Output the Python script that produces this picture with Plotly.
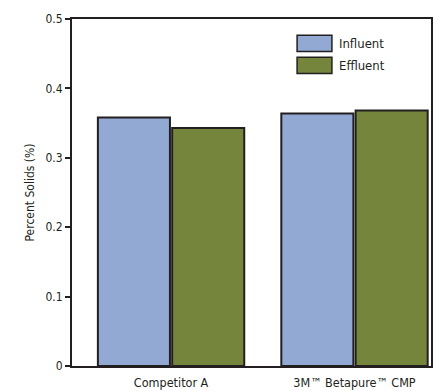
import plotly.graph_objects as go

categories = ["Competitor A", "3M™ Betapure™ CMP"]
influent = [0.358, 0.364]
effluent = [0.343, 0.368]
series_names = ["Influent", "Effluent"]
colors = ["#92a9d3", "#76853c"]
y_ticks = [0, 0.1, 0.2, 0.3, 0.4, 0.5]

FONT = "Liberation Sans Narrow, DejaVu Sans Condensed, Arial Narrow, sans-serif"
LINE = "#231f20"

x = list(range(len(categories)))
fig = go.Figure()
for name, vals, col in zip(series_names, [influent, effluent], colors):
    fig.add_trace(go.Bar(x=x, y=vals, name=name, marker=dict(color=col, line=dict(color=LINE, width=2)),
                         showlegend=False))

# custom legend with large patches
for i, (name, col) in enumerate(zip(series_names, colors)):
    y0 = 0.953 - i * 0.063
    fig.add_shape(type="rect", xref="paper", yref="paper", x0=0.627, x1=0.724, y0=y0 - 0.047, y1=y0,
                  fillcolor=col, line=dict(color=LINE, width=1.5))
    fig.add_annotation(xref="paper", yref="paper", x=0.737, y=y0 - 0.0235, text=name, showarrow=False,
                       xanchor="left", yanchor="middle", font=dict(family=FONT, size=13, color="#231f20"))

fig.update_layout(
    width=448, height=391,
    margin=dict(l=72, r=17, t=19, b=25),
    paper_bgcolor="white", plot_bgcolor="white",
    barmode="group", bargap=0.19, bargroupgap=0.03,
    font=dict(family=FONT, size=12, color="#231f20"),
    xaxis=dict(range=[-0.54, 1.417], tickvals=x, ticktext=categories, showgrid=False, zeroline=False,
               showline=True, linecolor=LINE, linewidth=2, mirror=True, ticks="",
               tickfont=dict(size=12.5), ticklabelstandoff=4, automargin=False, fixedrange=True),
    yaxis=dict(range=[0, 0.5], tickvals=y_ticks, showgrid=False, zeroline=False,
               showline=True, linecolor=LINE, linewidth=2, mirror=True, ticks="outside",
               ticklen=5, tickwidth=2, tickcolor=LINE, tickfont=dict(size=12), automargin=False,
               fixedrange=True,
               title=dict(text="Percent Solids (%)", font=dict(size=12), standoff=8)),
)
fig.write_html("out.html", config={"displayModeBar": False},
               post_script="document.body.style.margin='0';document.body.style.overflow='hidden';")
